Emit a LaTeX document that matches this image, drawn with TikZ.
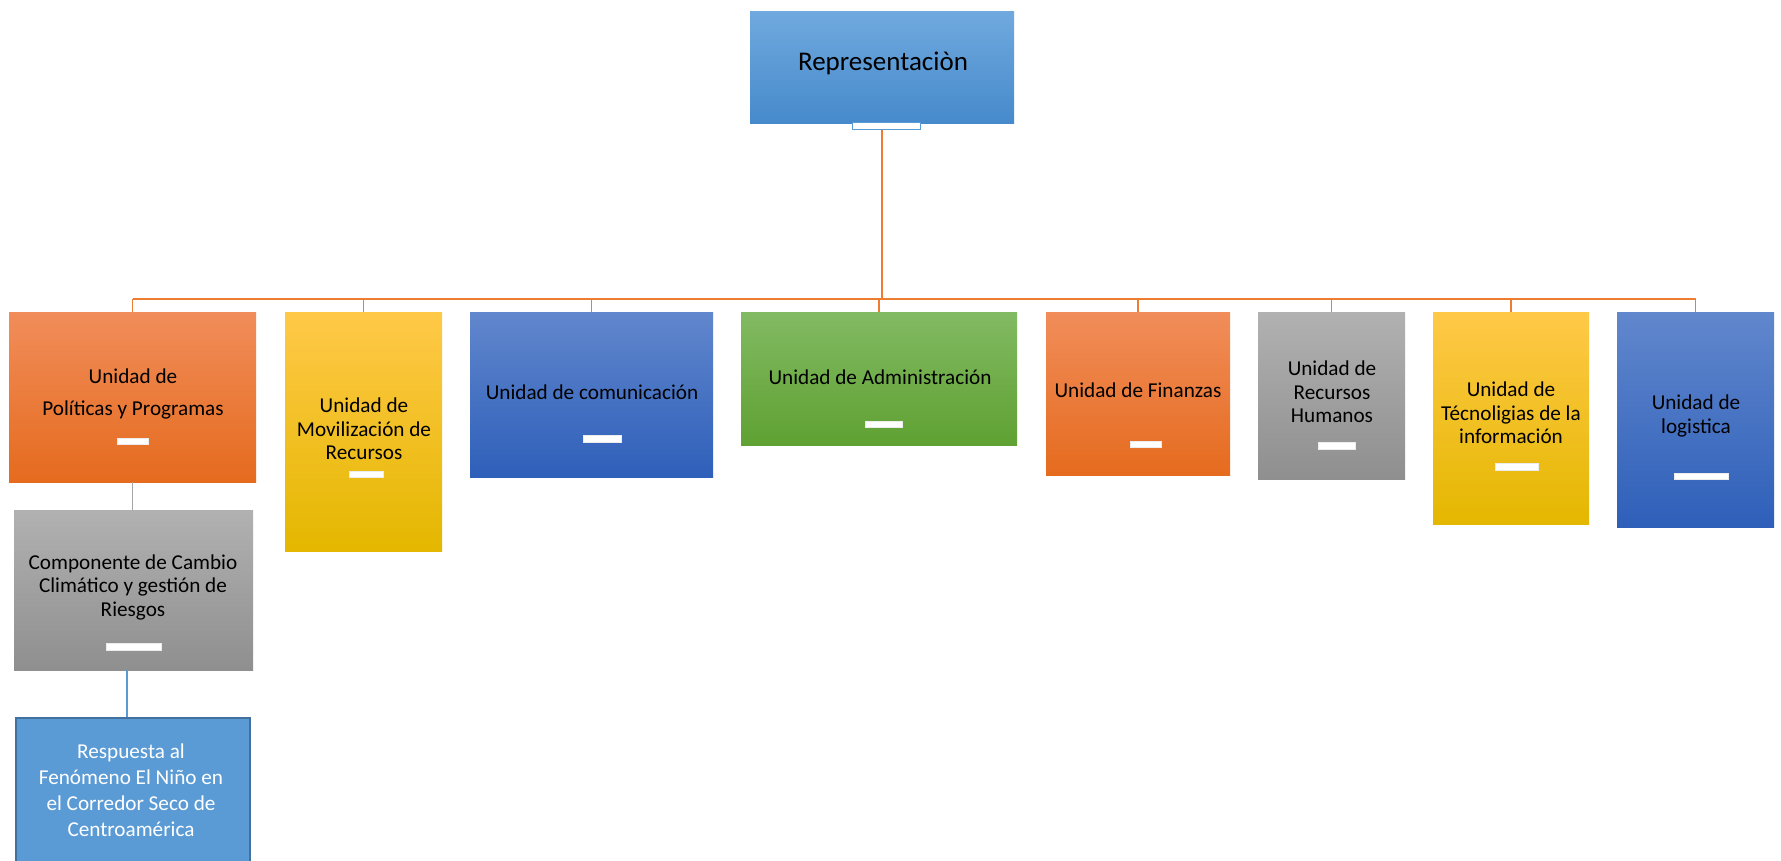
\documentclass[tikz,border=0pt]{standalone}
\usepackage{fontspec}
\setmainfont{Carlito}
\definecolor{orgorange}{RGB}{237,125,49}
\definecolor{orggray}{RGB}{165,165,165}
\definecolor{orgblue}{RGB}{91,155,213}
\definecolor{orgblueborder}{RGB}{65,113,156}
\definecolor{orT}{RGB}{241,141,90}\definecolor{orB}{RGB}{229,107,30}
\definecolor{yeT}{RGB}{255,201,72}\definecolor{yeB}{RGB}{228,183,0}
\definecolor{blT}{RGB}{97,135,205}\definecolor{blB}{RGB}{46,95,185}
\definecolor{grT}{RGB}{130,186,99}\definecolor{grB}{RGB}{95,161,50}
\definecolor{gyT}{RGB}{177,177,177}\definecolor{gyB}{RGB}{143,143,143}
\definecolor{rpT}{RGB}{112,169,222}\definecolor{rpB}{RGB}{70,138,204}
\tikzset{
  unitbox/.style={rectangle, inner sep=0pt, draw=none, anchor=north west},
  orangebox/.style={unitbox, top color=orT, bottom color=orB},
  yellowbox/.style={unitbox, top color=yeT, bottom color=yeB},
  bluebox/.style={unitbox, top color=blT, bottom color=blB},
  greenbox/.style={unitbox, top color=grT, bottom color=grB},
  graybox/.style={unitbox, top color=gyT, bottom color=gyB},
  boxtext/.style={align=center, inner sep=0pt, text=black, font=\fontsize{21.2}{23.5}\selectfont},
  placeholder/.style={rectangle, inner sep=0pt, fill=white, draw=white!85!gray, line width=0.4pt},
  orgline/.style={draw=orgorange, line width=1.5pt},
}
\begin{document}
\begin{tikzpicture}[x=1pt, y=-1pt]
\clip (0,0) rectangle (1781,860);
\fill[white] (0,0) rectangle (1781,860);
% top box
\node[unitbox, top color=rpT, bottom color=rpB, minimum width=264, minimum height=112] (rep) at (750,11) {};
\node[boxtext, font=\fontsize{27}{32}\selectfont] (rept) at (883,63) {Representaciòn};
% children boxes
\node[orangebox, minimum width=247, minimum height=170] (pol) at (9,312) {};
\node[yellowbox, minimum width=157, minimum height=239] (mov) at (285,312) {};
\node[bluebox, minimum width=243, minimum height=165] (com) at (470,312) {};
\node[greenbox, minimum width=276, minimum height=133] (adm) at (741,312) {};
\node[orangebox, minimum width=184, minimum height=163] (fin) at (1046,312) {};
\node[graybox, minimum width=147, minimum height=167] (rh) at (1258,312) {};
\node[yellowbox, minimum width=156, minimum height=212] (tec) at (1433,312) {};
\node[bluebox, minimum width=157, minimum height=215] (log) at (1617,312) {};
\node[graybox, minimum width=239, minimum height=160] (comp) at (14,510) {};
\node[unitbox, fill=orgblue, draw=orgblueborder, line width=2pt, minimum width=234, minimum height=152] (resp) at (15,717) {};
% connectors
\coordinate (bar) at (0,299);
\draw[orgline] (rep.south) -- (rep.south |- bar);
\draw[orgline] (pol.north |- bar) -- (log.north |- bar);
\foreach \n in {pol,mov,com,adm,fin,rh,tec,log}{
  \draw[orgline] (\n.north |- bar) -- (\n.north);
}
\draw[draw=orggray, line width=1.2pt] (pol.south) -- (comp.north -| pol.south);
\coordinate (compx) at (127,0);
\draw[draw=orgblue, line width=1.2pt] (comp.south -| compx) -- (resp.north -| compx);
% placeholders
\node[rectangle, inner sep=0pt, fill=white, draw=orgblue, line width=0.8pt, minimum width=68, minimum height=7] (repph) at (886,125.5) {};
\node[placeholder, minimum width=31, minimum height=6] (polph) at (132.5,441) {};
\node[placeholder, minimum width=34, minimum height=6] (movph) at (366,474) {};
\node[placeholder, minimum width=38, minimum height=7] (comph) at (602,438.5) {};
\node[placeholder, minimum width=37, minimum height=6] (admph) at (883.5,424) {};
\node[placeholder, minimum width=31, minimum height=6] (finph) at (1145.5,444) {};
\node[placeholder, minimum width=37, minimum height=7] (rhph) at (1336.5,445.5) {};
\node[placeholder, minimum width=43, minimum height=7] (tecph) at (1516.5,466.5) {};
\node[placeholder, minimum width=54, minimum height=6] (logph) at (1701,476.5) {};
\node[placeholder, minimum width=55, minimum height=7] (compph) at (133.5,646.5) {};
% texts
\node[boxtext] (polt) at (133,394) {Unidad de\\[9pt]Políticas y Programas};
\node[boxtext] (movt) at (364,429) {Unidad de\\Movilización de\\Recursos};
\node[boxtext] (comt) at (592,392) {Unidad de comunicación};
\node[boxtext] (admt) at (880,377) {Unidad de Administración};
\node[boxtext] (fint) at (1138,390) {Unidad de Finanzas};
\node[boxtext] (rht) at (1332,392) {Unidad de\\Recursos\\Humanos};
\node[boxtext] (tect) at (1511,413) {Unidad de\\Técnoligias de la\\información};
\node[boxtext] (logt) at (1696,416) {Unidad de\\logistica};
\node[boxtext] (compt) at (133,587) {Componente de Cambio\\Climático y gestión de\\Riesgos};
\node[boxtext, text=white, font=\fontsize{21.2}{26}\selectfont] (respt) at (131,790) {Respuesta al\\Fenómeno El Niño en\\el Corredor Seco de\\Centroamérica};
\end{tikzpicture}
\end{document}
